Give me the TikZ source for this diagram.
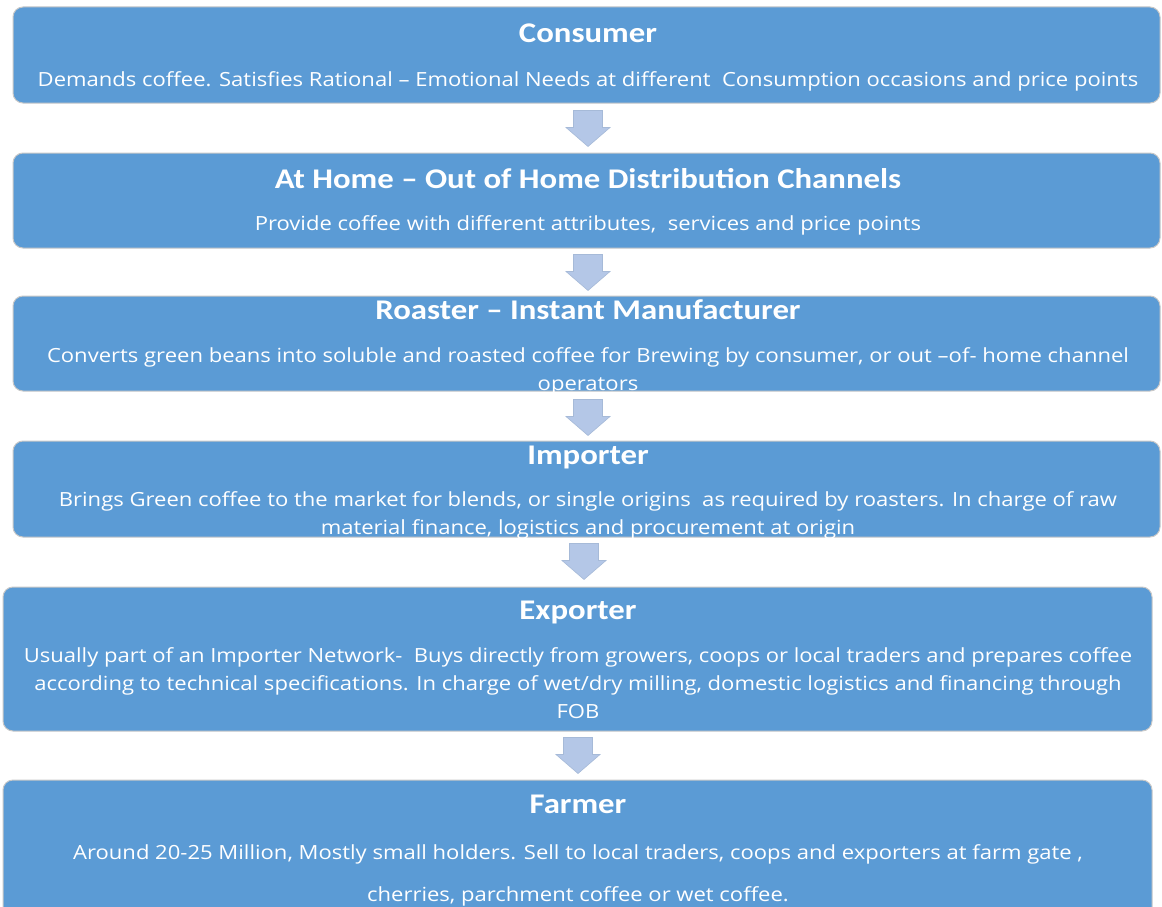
\documentclass[tikz,border=0pt]{standalone}
\usepackage{fontspec}
\setmainfont{Carlito}
\newfontfamily\titlefont[FakeStretch=1.15]{Carlito}
\newfontfamily\bodyfont[FakeStretch=1.13]{Open Sans}
\usetikzlibrary{calc}
\definecolor{boxblue}{HTML}{5B9BD5}
\definecolor{boxedge}{HTML}{C8C8C8}
\definecolor{arrowfill}{HTML}{B4C7E7}
\definecolor{arrowedge}{HTML}{A6BAD8}
\tikzset{
  box/.style={rectangle, rounded corners=10pt, fill=boxblue, draw=boxedge, line width=1pt, inner sep=0pt},
  ttl/.style={anchor=base, text=white, font=\titlefont\fontsize{28.5}{34}\selectfont\bfseries, inner sep=0pt},
  desc/.style={anchor=base, text=white, align=center, font=\bodyfont\fontsize{19.5}{28}\selectfont, inner sep=0pt},
  arrowstyle/.style={fill=arrowfill, draw=arrowedge, line width=0.6pt},
  pics/darrow/.style={code={\draw[arrowstyle] (-14.5,0) -- (14.5,0) -- (14.5,17) -- (22,17) -- (0,36) -- (-22,17) -- (-14.5,17) -- cycle;}}
}
\begin{document}
\begin{tikzpicture}[x=1pt,y=-1pt]
\clip (0,0) rectangle (1162,907);
\fill[white] (0,0) rectangle (1162,907);
% boxes
\node[box, minimum width=1147pt, minimum height=96pt] (b1) at (586.5,55) {};
\node[box, minimum width=1147pt, minimum height=95pt] (b2) at (586.5,200.5) {};
\node[box, minimum width=1147pt, minimum height=95pt] (b3) at (586.5,343.5) {};
\node[box, minimum width=1147pt, minimum height=96pt] (b4) at (586.5,489) {};
\node[box, minimum width=1149pt, minimum height=144pt] (b5) at (577.5,659) {};
\node[box, minimum width=1149pt, minimum height=160pt] (b6) at (577.5,860) {};
% titles
\node[ttl] (t1) at (588,43) {Consumer};
\node[ttl] (t2) at (588,188) {At Home – Out of Home Distribution Channels};
\node[ttl] (t3) at (588,319) {Roaster – Instant Manufacturer};
\node[ttl] (t4) at (588,464) {Importer};
\node[ttl] (t5) at (578,619) {Exporter};
\node[ttl] (t6) at (578,813) {Farmer};
% descriptions (base anchor = last line)
\node[desc] (d1) at (588,86) {Demands coffee. Satisfies Rational – Emotional Needs at different\ \ Consumption occasions and price points};
\node[desc] (d2) at (588,230) {Provide coffee with different attributes,\ \ services and price points};
\node[desc] (d3) at (588,390) {Converts green beans into soluble and roasted coffee for Brewing by consumer, or out –of- home channel\\operators};
\node[desc] (d4) at (588,534) {Brings Green coffee to the market for blends, or single origins\ \ as required by roasters. In charge of raw\\material finance, logistics and procurement at origin};
\node[desc] (d5) at (578,718) {Usually part of an Importer Network-\ \ Buys directly from growers, coops or local traders and prepares coffee\\according to technical specifications. In charge of wet/dry milling, domestic logistics and financing through\\FOB};
\node[desc, font=\bodyfont\fontsize{19.5}{42}\selectfont] (d6) at (578,901) {Around 20-25 Million, Mostly small holders. Sell to local traders, coops and exporters at farm gate ,\\cherries, parchment coffee or wet coffee.};
% arrows
\pic at ($(b1.south)+(1.5,7)$) {darrow};
\pic at ($(b2.south)+(1.5,6)$) {darrow};
\pic at ($(b3.south)+(1.5,8)$) {darrow};
\pic at ($(b4.south)+(-2.5,6)$) {darrow};
\pic at ($(b5.south)+(0.5,6)$) {darrow};
\end{tikzpicture}
\end{document}
